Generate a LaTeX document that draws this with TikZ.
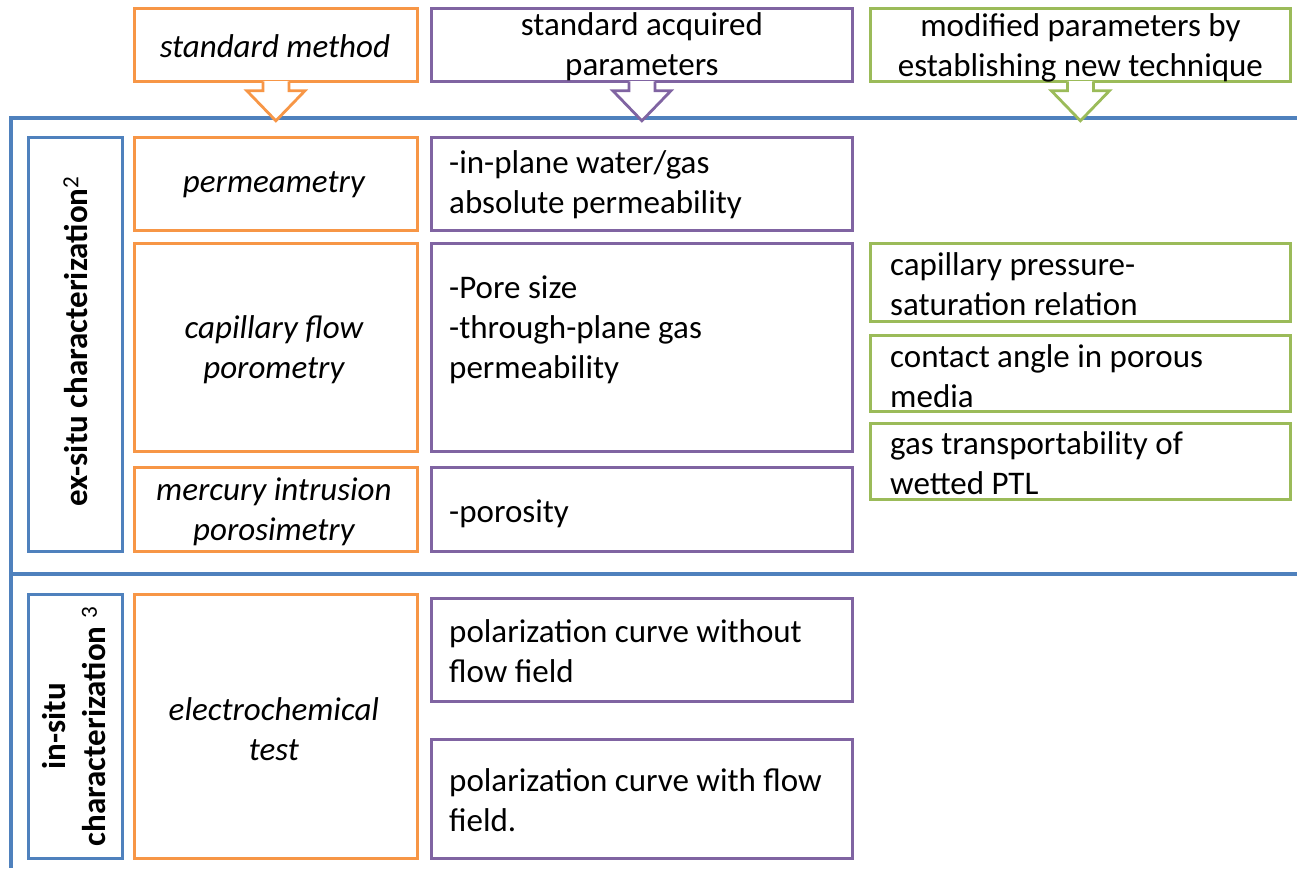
\documentclass[tikz,border=0pt]{standalone}
\usepackage{fontspec}
\setmainfont{Carlito}
\usetikzlibrary{calc}
\definecolor{cOr}{HTML}{F79646}
\definecolor{cPu}{HTML}{8064A2}
\definecolor{cGr}{HTML}{9BBB59}
\definecolor{cBl}{HTML}{4F81BD}
\begin{document}
\begin{tikzpicture}[x=1pt,y=-1pt,
  box/.style={draw=#1,line width=2.8pt,inner sep=0pt,anchor=north west,fill=white},
  txt/.style={font=\fontsize{33}{40}\selectfont,inner sep=0pt,text=black,align=left},
  ctx/.style={font=\fontsize{33}{40}\selectfont,inner sep=0pt,text=black,align=center},
  itx/.style={font=\fontsize{33}{40}\selectfont\itshape,inner sep=0pt,text=black,align=center},
  vtx/.style={font=\fontsize{33}{40}\selectfont\bfseries,inner sep=0pt,text=black,align=center,rotate=90},
  blk/.style={line width=2.8pt,line join=miter,draw=#1},
  frame/.style={cBl,line width=3.2pt}]
\useasboundingbox (0,0) rectangle (1297,868);
% outer frame
\draw[frame] (1297,118) -- (11,118) -- (11,868);
\draw[frame] (11,574) -- (1297,574);
% header boxes
\node[box=cOr,minimum width=283pt,minimum height=73pt] (sm) at (133,7) {};
\node[box=cPu,minimum width=421pt,minimum height=73pt] (sap) at (430,7) {};
\node[box=cGr,minimum width=420pt,minimum height=73pt] (mp) at (869,7) {};
\node[itx] (smt) at ($(sm.center)+(-1,1)$) {standard method};
\node[ctx] (sapt) at ($(sap.center)+(0,2)$) {standard acquired\\parameters};
\node[ctx] (mpt) at ($(mp.center)+(0,3)$) {modified parameters by\\establishing new technique};
% block arrows
\foreach \b/\c in {sm/cOr,sap/cPu,mp/cGr}{
  \fill[white] ($(\b.south)+(-13,-1.6)$) -- ++(0,9.6) -- ++(-16,0) -- ++(29,30) -- ++(29,-30) -- ++(-16,0) -- ++(0,-9.6) -- cycle;
  \draw[blk=\c] ($(\b.south)+(-13,-1.4)$) -- ++(0,9.4) -- ++(-16,0) -- ++(29,30) -- ++(29,-30) -- ++(-16,0) -- ++(0,-9.4);
}
% left labels
\node[box=cBl,minimum width=94pt,minimum height=414pt] (ex) at (27,136) {};
\node[box=cBl,minimum width=94pt,minimum height=264pt] (in) at (27,593) {};
\node[vtx] (ext) at ($(ex.center)+(0,-3)$) {ex-situ characterization\textsuperscript{\mdseries 2}};
\node[vtx] (intx) at ($(in.center)+(-1,0)$) {in-situ\\characterization \textsuperscript{\mdseries 3}};
% orange column
\node[box=cOr,minimum width=283pt,minimum height=93pt] (per) at (133,136) {};
\node[box=cOr,minimum width=283pt,minimum height=208pt] (cfp) at (133,242) {};
\node[box=cOr,minimum width=283pt,minimum height=84pt] (mip) at (133,466) {};
\node[box=cOr,minimum width=283pt,minimum height=264pt] (ect) at (133,593) {};
\node[itx] (pert) at ($(per.center)+(-2,1)$) {permeametry};
\node[itx] (cfpt) at ($(cfp.center)+(-2,2)$) {capillary flow\\porometry};
\node[itx] (mipt) at ($(mip.center)+(-2,2)$) {mercury intrusion\\porosimetry};
\node[itx] (ectt) at ($(ect.center)+(-2,3)$) {electrochemical\\test};
% purple column
\node[box=cPu,minimum width=421pt,minimum height=93pt] (inp) at (430,136) {};
\node[box=cPu,minimum width=421pt,minimum height=208pt] (pore) at (430,242) {};
\node[box=cPu,minimum width=421pt,minimum height=84pt] (poro) at (430,466) {};
\node[box=cPu,minimum width=421pt,minimum height=103pt] (pw) at (430,597) {};
\node[box=cPu,minimum width=421pt,minimum height=119pt] (pwf) at (430,738) {};
\node[txt,anchor=west] (inpt) at ($(inp.west)+(19,1)$) {-in-plane water/gas\\absolute permeability};
\node[txt,anchor=west] (poret) at ($(pore.west)+(19,-18)$) {-Pore size\\-through-plane gas\\permeability};
\node[txt,anchor=west] (porot) at ($(poro.west)+(19,4)$) {-porosity};
\node[txt,anchor=west] (pwt) at ($(pw.west)+(19,1)$) {polarization curve without\\flow field};
\node[txt,anchor=west] (pwft) at ($(pwf.west)+(19,1)$) {polarization curve with flow\\field.};
% green column
\node[box=cGr,minimum width=420pt,minimum height=78pt] (cap) at (869,242) {};
\node[box=cGr,minimum width=420pt,minimum height=76pt] (ca) at (869,334) {};
\node[box=cGr,minimum width=420pt,minimum height=76pt] (gt) at (869,422) {};
\node[txt,anchor=west] (capt) at ($(cap.west)+(21,2)$) {capillary pressure-\\saturation relation};
\node[txt,anchor=west] (cat) at ($(ca.west)+(21,3)$) {contact angle in porous\\media};
\node[txt,anchor=west] (gtt) at ($(gt.west)+(21,2)$) {gas transportability of\\wetted PTL};
\end{tikzpicture}
\end{document}
